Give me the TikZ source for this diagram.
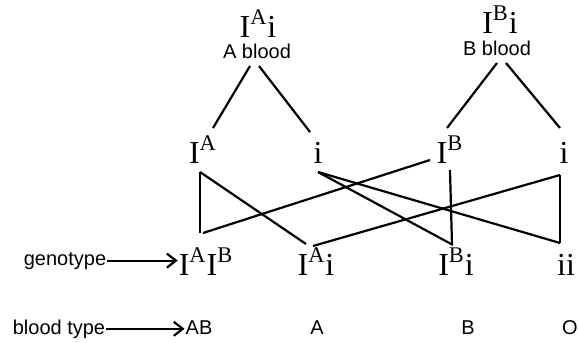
\documentclass[tikz,border=0pt]{standalone}
\usepackage{fontspec}
\setmainfont{Liberation Serif}
\setsansfont{Liberation Sans}
\usetikzlibrary{calc,arrows.meta}

\begin{document}
\begin{tikzpicture}[x=0.5pt,y=-0.5pt,line width=1.1pt,
  gene/.style={font=\fontsize{16}{18}\selectfont,inner sep=0pt,anchor=base},
  lbl/.style={font=\sffamily\fontsize{10}{12}\selectfont,inner sep=0pt,anchor=base},
  pointer/.style={-{Straight Barb[length=4.5pt,width=7pt]}}]
  \useasboundingbox (0,0) rectangle (579,343);
  \node[gene] (pa) at (258,37) {I\textsuperscript{A}i};
  \node[lbl] (pal) at (257,58) {A blood};
  \node[gene] (pb) at (500,33) {I\textsuperscript{B}i};
  \node[lbl] (pbl) at (497,55) {B blood};
  \node[gene] (ga) at (203,163) {I\textsuperscript{A}};
  \node[gene] (gi) at (318,163) {i};
  \node[gene] (gb) at (450,163) {I\textsuperscript{B}};
  \node[gene] (gj) at (564,163) {i};
  \node[gene] (cab) at (206,275) {I\textsuperscript{A}I\textsuperscript{B}};
  \node[gene] (cai) at (316,275) {I\textsuperscript{A}i};
  \node[gene] (cbi) at (456,275) {I\textsuperscript{B}i};
  \node[gene] (cii) at (566,275) {ii};
  \node[lbl] (geno) at (65,265) {genotype};
  \node[lbl] (bt) at (59,334) {blood type};
  \node[lbl] (tab) at (199,334) {AB};
  \node[lbl] (ta) at (317,334) {A};
  \node[lbl] (tb) at (468,334) {B};
  \node[lbl] (to) at (570,334) {O};
  \draw ($(pal.base)+(-7,8)$) -- ($(ga.base)+(10,-35)$);
  \draw ($(pal.base)+(2,8)$) -- ($(gi.base)+(-8,-31)$);
  \draw ($(pbl.base)+(0,8)$) -- ($(gb.base)+(-3,-35)$);
  \draw ($(pbl.base)+(9,8)$) -- ($(gj.base)+(-4,-35)$);
  \draw ($(ga.base)+(-3,9)$) -- ($(cab.base)+(-6,-42)$);
  \draw ($(ga.base)+(-3,9)$) -- ($(cai.base)+(-10,-31)$);
  \draw ($(gb.base)+(-20,-3)$) -- ($(cab.base)+(-3,-42)$);
  \draw ($(gi.base)+(0,9)$) -- ($(cbi.base)+(-3,-30)$);
  \draw ($(gi.base)+(0,9)$) -- ($(cii.base)+(-6,-32)$);
  \draw ($(gb.base)+(0,7)$) -- ($(cbi.base)+(-4,-30)$);
  \draw ($(gj.base)+(-4,12)$) -- ($(cii.base)+(-6,-32)$);
  \draw ($(gj.base)+(-4,12)$) -- ($(cai.base)+(-3,-29)$);
  \draw[pointer] (geno.east) -- (cab.west |- geno.east);
  \draw[pointer] (bt.east) -- (tab.west |- bt.east);
\end{tikzpicture}
\end{document}
